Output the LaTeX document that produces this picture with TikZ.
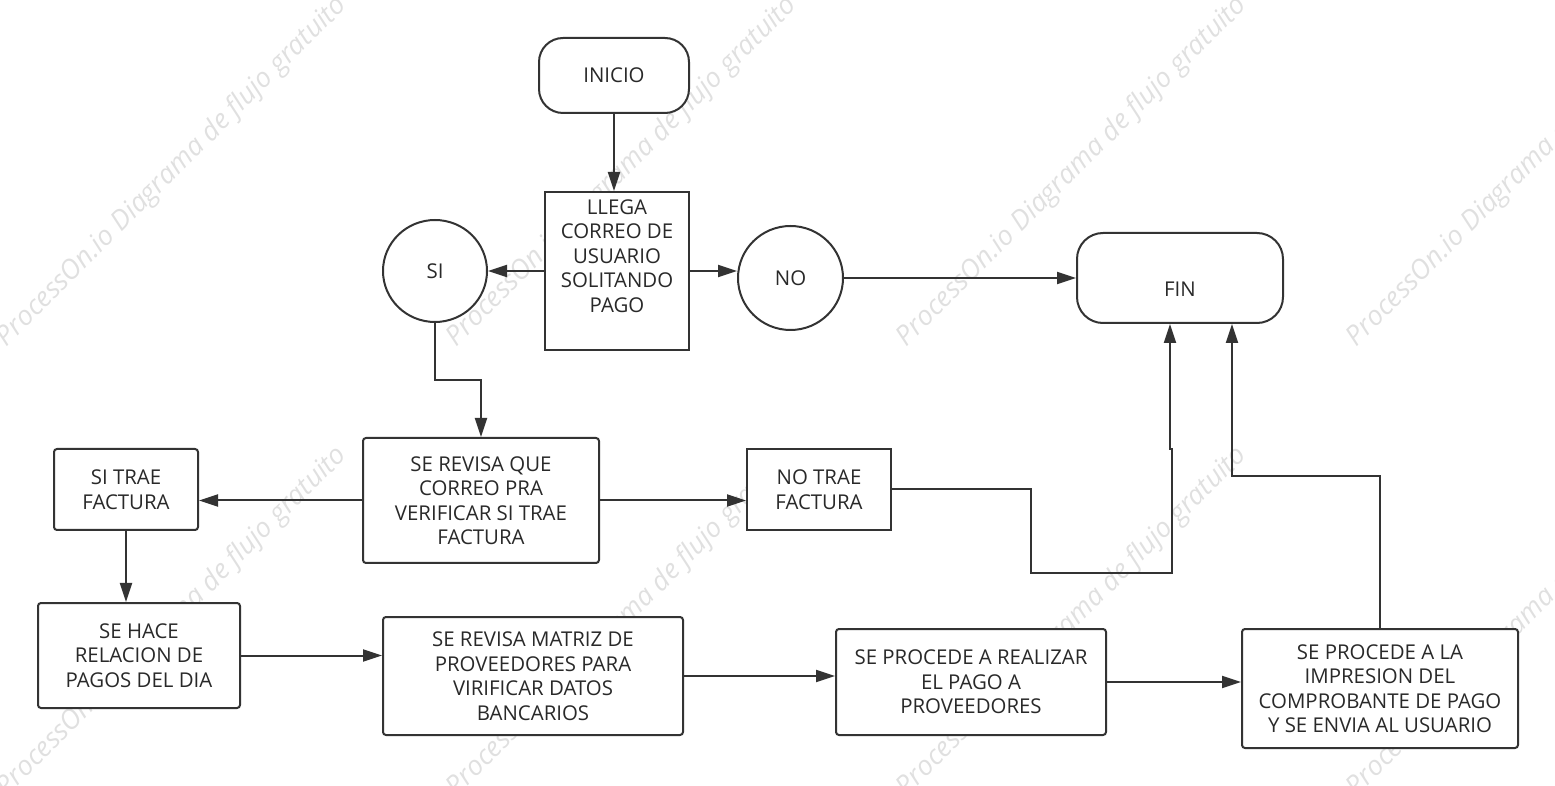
\documentclass[tikz,border=0pt]{standalone}
\usepackage{fontspec}
\setmainfont{Open Sans}
\usetikzlibrary{arrows.meta,shapes.geometric}
\definecolor{ink}{HTML}{333333}
\definecolor{wm}{HTML}{E0E0E0}
\begin{document}
\begin{tikzpicture}[x=0.5pt,y=-0.5pt,
  base/.style={draw=ink,line width=1pt,fill=white,inner sep=0pt,align=center,
    font=\fontsize{10.2}{12.25}\selectfont,text=ink!80!black},
  pill/.style={base,rectangle,rounded corners=12pt},
  sharpbox/.style={base,rectangle},
  softbox/.style={base,rectangle,rounded corners=1.5pt},
  oval/.style={base,ellipse},
  arr/.style={draw=ink,line width=1pt,-{Triangle[length=9.5pt,width=6pt]}},
  wmark/.style={text=wm,rotate=45,font=\fontsize{13.6}{15}\selectfont\itshape,inner sep=0pt}]
\useasboundingbox (0,0) rectangle (1555,786);
% watermark
\foreach \cx in {172,622,1072,1522}{
  \foreach \cy in {172,622}{
    \node[wmark] (wm-\cx-\cy) at (\cx,\cy) {ProcessOn.io Diagrama de flujo gratuito};
  }}
% nodes
\node[pill,minimum width=75pt,minimum height=37.5pt] (inicio) at (614,75.5) {INICIO};
\node[sharpbox,minimum width=72pt,minimum height=79pt] (llega) at (617,271)
  {\raisebox{6.25pt}[\height][\depth]{\begin{tabular}{@{}c@{}}LLEGA\\CORREO DE\\USUARIO\\SOLITANDO\\PAGO\end{tabular}}};
\node[oval,minimum width=52pt,minimum height=51pt] (si) at (435,271) {SI};
\node[oval,minimum width=52.5pt,minimum height=52pt] (no) at (790.5,278) {NO};
\node[pill,rounded corners=13pt,minimum width=103pt,minimum height=45pt] (fin) at (1180,278) {\raisebox{-5.5pt}[\height][\depth]{FIN}};
\node[softbox,minimum width=118pt,minimum height=62.5pt] (revisa) at (481,500.5)
  {SE REVISA QUE\\CORREO PRA\\VERIFICAR SI TRAE\\FACTURA};
\node[softbox,minimum width=72pt,minimum height=40.5pt] (sitrae) at (126,489.5)
  {SI TRAE\\FACTURA};
\node[sharpbox,minimum width=72pt,minimum height=40.5pt] (notrae) at (819,489.5)
  {NO TRAE\\FACTURA};
\node[softbox,minimum width=101pt,minimum height=52.5pt] (hace) at (139,655.5)
  {SE HACE\\RELACION DE\\PAGOS DEL DIA};
\node[softbox,minimum width=150pt,minimum height=59pt] (matriz) at (533,676)
  {SE REVISA MATRIZ DE\\PROVEEDORES PARA\\VIRIFICAR DATOS\\BANCARIOS};
\node[softbox,minimum width=135pt,minimum height=53pt] (realizar) at (971,682)
  {SE PROCEDE A REALIZAR\\EL PAGO A\\PROVEEDORES};
\node[softbox,minimum width=138pt,minimum height=59.5pt] (impresion) at (1380,688.5)
  {SE PROCEDE A LA\\IMPRESION DEL\\COMPROBANTE DE PAGO\\Y SE ENVIA AL USUARIO};
% helper coordinates
\coordinate (a1) at (1031,573);
\coordinate (a2) at (1172,449);
\coordinate (fx) at (1170,0);
\coordinate (b1) at (1232,476);
\coordinate (s1) at (435,380);
% connectors
\draw[arr] (inicio.south) -- (inicio.south |- llega.north);
\draw[arr] (llega.west) -- (llega.west -| si.east);
\draw[arr] (llega.east) -- (llega.east -| no.west);
\draw[arr] (no.east) -- (no.east -| fin.west);
\draw[arr] (si.south) -- (s1) -| (revisa.north);
\draw[arr] (revisa.west) -- (revisa.west -| sitrae.east);
\draw[arr] (revisa.east) -- (revisa.east -| notrae.west);
\draw[arr] (notrae.east) -| (a1) -| (a2) -- (a2 -| fx) -- (fx |- fin.south);
\draw[arr] (impresion.north) |- (b1) -- (b1 |- fin.south);
\draw[arr] (sitrae.south) -- (sitrae.south |- hace.north);
\draw[arr] (hace.east) -- (hace.east -| matriz.west);
\draw[arr] (matriz.east) -- (matriz.east -| realizar.west);
\draw[arr] (realizar.east) -- (realizar.east -| impresion.west);
\end{tikzpicture}
\end{document}
